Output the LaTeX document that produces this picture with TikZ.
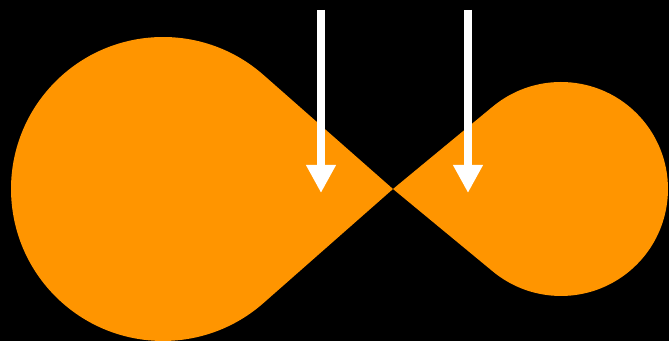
\documentclass[tikz,border=0pt]{standalone}
\usepackage{tikz}
\usetikzlibrary{arrows.meta,calc}
\definecolor{lobeorange}{RGB}{255,149,0}

\begin{document}
\begin{tikzpicture}[
    lobe/.style={fill=lobeorange, draw=none},
    pointer/.style={draw=white, line width=4.6pt, -{Triangle[width=5.6mm,length=5.6mm]}}
]
\fill[black] (0,0) rectangle (13.38,6.82);
\useasboundingbox (0,0) rectangle (13.38,6.82);
% figure-eight: two circles joined by tangents through one crossing point
\coordinate (cross) at (7.86,3.04);
\coordinate (bigc) at (3.26,3.04);
\coordinate (smallc) at (11.22,3.04);
\fill[lobe] (cross) -- ($(bigc)+(48.6:3.04)$) arc[start angle=48.6, end angle=311.4, radius=3.04cm] -- cycle;
\fill[lobe] (cross) -- ($(smallc)+(129.6:2.14)$) arc[start angle=129.6, end angle=-129.6, radius=2.14cm] -- cycle;
% arrows
\coordinate (lefttop) at (6.42,6.62);
\coordinate (lefttip) at (6.42,2.96);
\coordinate (righttop) at (9.36,6.62);
\coordinate (righttip) at (9.36,2.96);
\draw[pointer] (lefttop) -- (lefttip);
\draw[pointer] (righttop) -- (righttip);
\end{tikzpicture}
\end{document}
